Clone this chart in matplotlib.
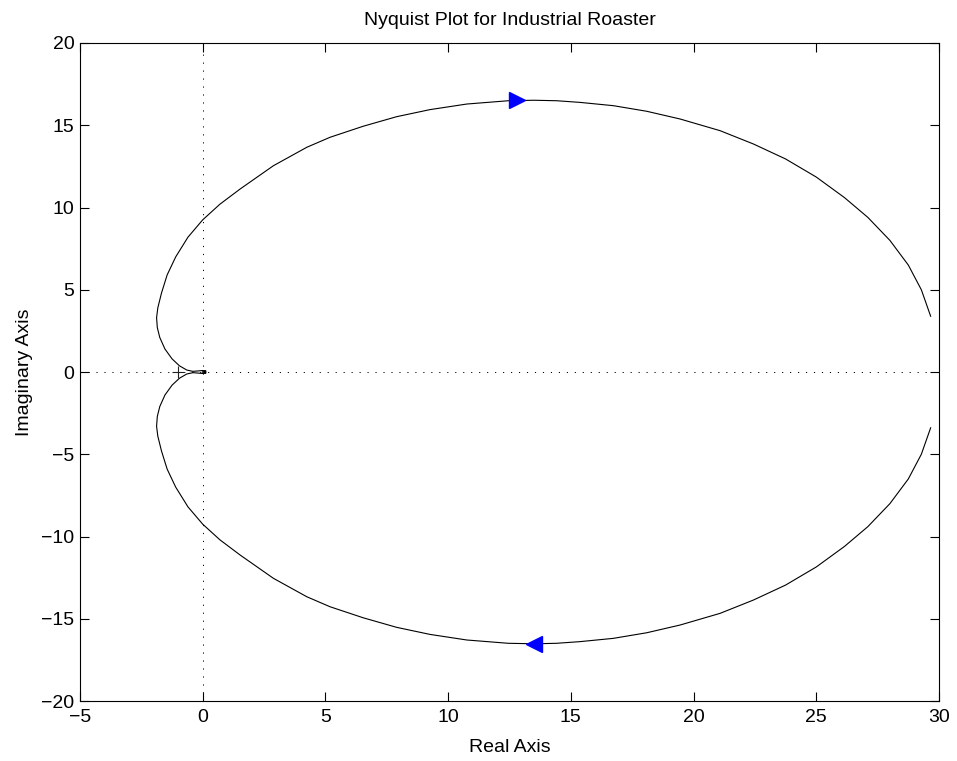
#!/usr/bin/env python

import matplotlib
matplotlib.use("Agg")
import matplotlib.pyplot as plt
import numpy as np

# upper branch (negative frequencies), from the origin outwards
upper_re = [0.00, 0.08, 0.14, 0.10, 0.00, -0.15, -0.40, -0.65, -0.95, -1.25,
            -1.54, -1.75, -1.85, -1.88, -1.83, -1.68, -1.45, -1.10, -0.60, 0.00,
            0.70, 1.52, 2.88, 4.24, 5.19, 6.54, 7.90, 9.26, 10.76, 12.45,
            13.50, 14.42, 15.37, 16.73, 18.09, 19.45, 21.08, 22.44, 23.75, 25.00,
            26.15, 27.10, 28.00, 28.75, 29.28, 29.66]
upper_im = [0.00, 0.02, 0.05, 0.08, 0.09, 0.07, 0.04, 0.12, 0.38, 0.80,
            1.40, 2.10, 2.70, 3.30, 3.90, 4.80, 5.90, 7.00, 8.20, 9.25,
            10.20, 11.12, 12.54, 13.66, 14.27, 14.94, 15.52, 15.95, 16.29, 16.49,
            16.52, 16.49, 16.39, 16.19, 15.85, 15.38, 14.67, 13.86, 12.95, 11.85,
            10.60, 9.40, 8.00, 6.50, 5.00, 3.39]

# lower branch (positive frequencies) is the mirror image
lower_re = upper_re[::-1]
lower_im = [-v for v in upper_im[::-1]]

# where the direction arrows sit on the curve
arrow_re = [12.8, 13.5]

x_ticks = [-5, 0, 5, 10, 15, 20, 25, 30]
y_ticks = [-20, -15, -10, -5, 0, 5, 10, 15, 20]


def main():
    plt.rcParams['font.family'] = ['Liberation Sans', 'DejaVu Sans']
    plt.rcParams['font.size'] = 14

    fig = plt.figure(figsize=(9.57, 7.61), dpi=100)
    ax = fig.add_axes([0.0836, 0.0788, 0.8976, 0.8647])

    dots = (0, (1.2, 7))
    ax.axhline(0, color='k', lw=0.7, linestyle=dots, zorder=1)
    ax.axvline(0, color='k', lw=0.7, linestyle=dots, zorder=1)

    ax.plot(upper_re, upper_im, color='k', lw=0.8, zorder=2)
    ax.plot(lower_re, lower_im, color='k', lw=0.8, zorder=2)

    # critical point
    ax.plot([-1], [0], marker='+', color='#222222', markersize=8, mew=0.8, zorder=3)

    # arrows: top one points right, bottom one points left
    top_idx = int(np.argmax(upper_im))
    ax.plot([arrow_re[0]], [upper_im[top_idx]], marker='>', color='#0000ff',
            markersize=12, mec='#0000ff', zorder=4)
    ax.plot([arrow_re[1]], [-upper_im[top_idx]], marker='<', color='#0000ff',
            markersize=12, mec='#0000ff', zorder=4)

    ax.set_xlim(-5, 30)
    ax.set_ylim(-20, 20)
    ax.set_xticks(x_ticks)
    ax.set_yticks(y_ticks)
    ax.tick_params(direction='in', length=6.5, width=0.8, top=True, right=True,
                   labelsize=14, pad=4)
    ax.tick_params(axis='x', pad=6)
    for s in ax.spines.values():
        s.set_linewidth(0.8)

    ax.set_title('Nyquist Plot for Industrial Roaster', fontsize=14, pad=13)
    ax.set_xlabel('Real Axis', fontsize=14, labelpad=9)
    ax.set_ylabel('Imaginary Axis', fontsize=14, labelpad=6)

    fig.savefig('out.png', dpi=100)


if __name__ == "__main__":
    main()
